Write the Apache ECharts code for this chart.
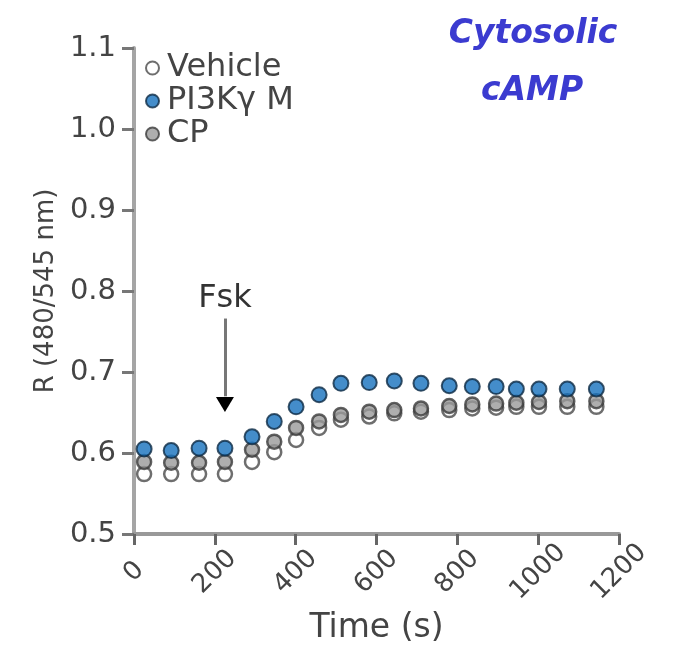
<!DOCTYPE html>
<html>
<head>
<meta charset="utf-8">
<script src="https://cdn.jsdelivr.net/npm/echarts@6/dist/echarts.min.js"></script>
<style>html,body{margin:0;padding:0;background:#fff;}#c{width:689px;height:655px;}</style>
</head>
<body>
<div id="c"></div>
<script>
const times = [25, 92, 161, 225, 292, 347, 401, 458, 512, 582, 644, 710, 780, 837, 896, 946, 1002, 1072, 1144];
const pi3k = [0.605, 0.603, 0.606, 0.606, 0.620, 0.639, 0.657, 0.672, 0.686, 0.687, 0.689, 0.686, 0.683, 0.682, 0.682, 0.679, 0.679, 0.679, 0.679];
const cp = [0.589, 0.588, 0.588, 0.589, 0.604, 0.614, 0.631, 0.639, 0.647, 0.651, 0.653, 0.655, 0.658, 0.660, 0.661, 0.662, 0.663, 0.664, 0.664];
const vehicle = [0.574, 0.574, 0.574, 0.574, 0.589, 0.601, 0.616, 0.631, 0.641, 0.645, 0.649, 0.651, 0.653, 0.655, 0.656, 0.657, 0.657, 0.657, 0.657];
const xTicks = [0, 200, 400, 600, 800, 1000, 1200];
const yTicks = [0.5, 0.6, 0.7, 0.8, 0.9, 1.0, 1.1];
const fskTime = 225;
const fskArrow = [0.766, 0.660];
const fskLabelY = 0.79;

function pairs(ys){ return times.map((t,i)=>[t, ys[i]]); }
const font = 'DejaVu Sans, sans-serif';
const chart = echarts.init(document.getElementById('c'));
chart.setOption({
  animation: false,
  backgroundColor: '#fff',
  title: [
    { text: 'Cytosolic', left: 528, top: 13, textAlign: 'center',
      textStyle: { color: '#3b3bd0', fontSize: 33, fontStyle: 'italic', fontWeight: 'bold', fontFamily: font } },
    { text: 'cAMP', left: 527, top: 70, textAlign: 'center',
      textStyle: { color: '#3b3bd0', fontSize: 33, fontStyle: 'italic', fontWeight: 'bold', fontFamily: font } }
  ],
  grid: { left: 134, right: 70, top: 48, bottom: 121, containLabel: false },
  legend: {
    orient: 'vertical', left: 140, top: 47, itemGap: 1, itemWidth: 13, itemHeight: 13,
    icon: 'circle',
    data: ['Vehicle', 'PI3Kγ M', 'CP'],
    textStyle: { fontSize: 32, color: '#444', fontFamily: font, padding: [0,0,0,3] }
  },
  xAxis: {
    type: 'value', min: xTicks[0], max: xTicks[xTicks.length-1], interval: 200,
    name: 'Time (s)', nameLocation: 'middle', nameGap: 78,
    nameTextStyle: { fontSize: 33, color: '#444', fontFamily: font },
    axisLine: { show: true, lineStyle: { color: '#999', width: 4 } },
    axisTick: { show: true, length: 11, lineStyle: { color: '#666', width: 3 } },
    axisLabel: { rotate: 45, align: 'center', verticalAlign: 'middle', fontSize: 26, color: '#444', fontFamily: font, margin: 38, formatter: v => String(v) },
    splitLine: { show: false }
  },
  yAxis: {
    type: 'value', min: yTicks[0], max: yTicks[yTicks.length-1], interval: 0.1,
    name: 'R (480/545 nm)', nameLocation: 'middle', nameGap: 74, nameRotate: 90,
    nameTextStyle: { fontSize: 26, color: '#444', fontFamily: font },
    axisLine: { show: true, lineStyle: { color: '#a5a5a5', width: 4 } },
    axisTick: { show: true, length: 12, lineStyle: { color: '#777', width: 3 } },
    axisLabel: { fontSize: 29, color: '#444', fontFamily: font, margin: 18, formatter: v => v.toFixed(1) },
    splitLine: { show: false }
  },
  series: [
    {
      name: 'Vehicle', type: 'scatter', data: pairs(vehicle), symbol: 'circle', symbolSize: 14, z: 2,
      itemStyle: { color: '#fff', borderColor: '#4a4a4a', borderWidth: 2.5 }
    },
    {
      name: 'PI3Kγ M', type: 'scatter', data: pairs(pi3k), symbol: 'circle', symbolSize: 15, z: 4,
      itemStyle: { color: '#1570bd', borderColor: '#0e2a44', borderWidth: 2 },
      markLine: {
        silent: true, symbol: ['none', 'none'],
        lineStyle: { color: '#777', width: 3, type: 'solid' },
        label: { show: false },
        data: [[{ coord: [fskTime, fskArrow[0]] }, { coord: [fskTime, fskArrow[1] + 0.01] }]]
      },
      markPoint: {
        silent: true,
        data: [
          { coord: [fskTime, fskArrow[1]], symbol: 'triangle', symbolRotate: 180, symbolSize: [18, 15],
            itemStyle: { color: '#000' }, label: { show: false } },
          { coord: [fskTime, fskLabelY], symbol: 'circle', symbolSize: 1, itemStyle: { color: 'rgba(0,0,0,0)' },
            label: { show: true, position: 'inside', formatter: 'Fsk', fontSize: 32, color: '#333', fontFamily: font } }
        ]
      }
    },
    {
      name: 'CP', type: 'scatter', data: pairs(cp), symbol: 'circle', symbolSize: 14, z: 3,
      itemStyle: { color: '#9a9a9a', borderColor: '#3a3a3a', borderWidth: 2.5 }
    }
  ]
});
</script>
</body>
</html>
